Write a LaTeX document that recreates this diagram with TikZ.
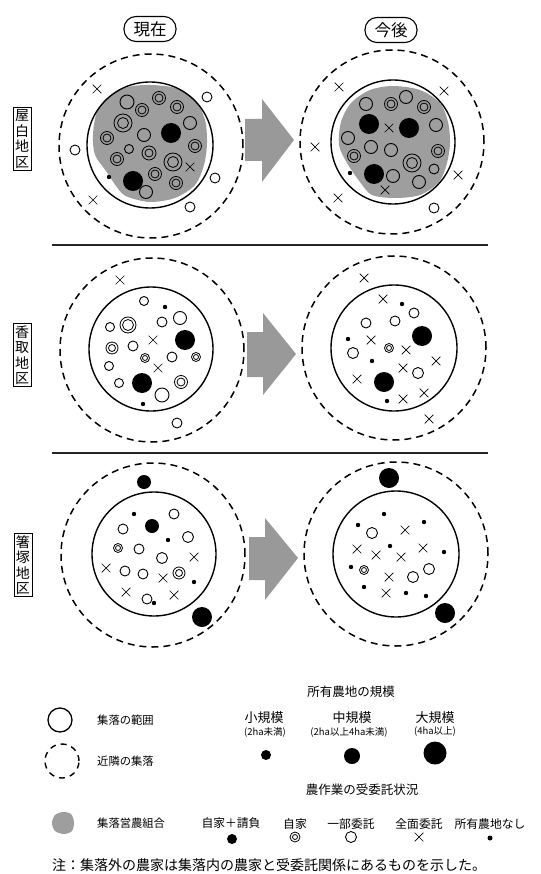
\documentclass[tikz,border=0pt]{standalone}
\usepackage{fontspec}
\newfontfamily\jp{Noto Sans CJK JP}
\usetikzlibrary{shapes.misc}

\tikzset{
  every node/.style={font=\jp},
  village/.style={circle, draw, line width=1.4pt, inner sep=0pt, minimum size=#1},
  nearby/.style={circle, draw, dash pattern=on 7pt off 5pt, line width=1.5pt, inner sep=0pt, minimum size=#1},
  opn/.style={circle, draw, line width=0.9pt, inner sep=0pt, minimum size=2*#1},
  dbl/.style 2 args={circle, draw, line width=0.8pt, inner sep=0pt, minimum size=2*#1,
    path picture={\draw[line width=0.8pt] (path picture bounding box.center) circle (#2pt);}},
  blk/.style={circle, fill, inner sep=0pt, minimum size=2*#1},
  xx/.style={cross out, draw, line width=0.7pt, inner sep=0pt, minimum size=8pt},
  period/.style={draw, rounded corners=12pt, line width=1.1pt, minimum width=52pt,
    minimum height=25pt, inner sep=0pt, font=\jp\fontsize{16.5}{17}\selectfont},
  district/.style={draw, line width=0.9pt, align=center, inner sep=2pt,
    font=\jp\fontsize{14}{15.5}\selectfont},
  blockarrow/.style={fill=black!40},
  divider/.style={line width=1.2pt, black!85},
  farmgroup/.style={fill=black!38},
  legtext/.style={font=\jp\fontsize{11.3}{13}\selectfont, anchor=west, inner sep=0pt},
  leghead/.style={font=\jp\fontsize{12.5}{14}\selectfont, inner sep=0pt},
  legsize/.style={font=\jp\fontsize{13}{14}\selectfont, inner sep=0pt},
  legsub/.style={font=\jp\fontsize{9.5}{10}\selectfont, inner sep=0pt},
  legitem/.style={font=\jp\fontsize{11.8}{13}\selectfont, inner sep=0pt},
}

\begin{document}
\begin{tikzpicture}[x=1pt, y=-1pt]
\useasboundingbox (0,0) rectangle (540,874);
\fill[white] (0,0) rectangle (540,874);

% ---------- headings ----------
\node[period] (now) at (150,29) {現在};
\node[period] (future) at (391,30) {今後};

% ---------- district labels ----------
\node[district] (yashiro) at (22,139) {屋\\白\\地\\区};
\node[district] (katori) at (22,355) {香\\取\\地\\区};
\node[district] (hashizuka) at (23,565) {箸\\塚\\地\\区};

% ---------- dividers ----------
\draw[divider] (52,245) -- (488,245);
\draw[divider] (52,453) -- (488,453);

% ---------- transition arrows ----------
\fill[blockarrow] (245,119) -- (262,119) -- (262,99) -- (294,140) -- (262,182) -- (262,161) -- (245,161) -- cycle;
\fill[blockarrow] (247,332) -- (263,332) -- (263,313) -- (296,354) -- (263,395) -- (263,377) -- (247,377) -- cycle;
\fill[blockarrow] (249,537) -- (265,537) -- (265,518) -- (298,558) -- (265,600) -- (265,580) -- (249,580) -- cycle;

% ================= Yashiro, now =================
\fill[farmgroup] plot[smooth cycle] coordinates {(150,85) (175,88) (195,100) (205,120) (207,143)
  (204,165) (195,185) (175,198) (150,202) (128,197) (119,190) (106,171) (95,155) (93,135)
  (97,112) (110,96) (128,87)};
\node[nearby=184pt] (A-near) at (151,146) {};
\node[village=126pt] (A-vil) at (150,145) {};
\node[opn=7] (A1) at (127,102) {};
\node[dbl={6.5}{4}] (A2) at (159,98) {};
\node[dbl={6.5}{4}] (A3) at (142,110) {};
\node[dbl={6.5}{4}] (A4) at (177,107) {};
\node[dbl={9}{5.5}] (A5) at (123,123) {};
\node[opn=6.5] (A6) at (144,135) {};
\node[blk=10] (A7) at (171,133) {};
\node[opn=6.5] (A8) at (190,123) {};
\node[dbl={6.5}{4}] (A9) at (107,138) {};
\node[opn=4.5] (A10) at (129,149) {};
\node[dbl={7}{4}] (A11) at (149,153) {};
\node[dbl={6.5}{4}] (A12) at (195,146) {};
\node[dbl={6.5}{4}] (A13) at (117,159) {};
\node[dbl={9}{5.5}] (A14) at (173,162) {};
\node[xx] (A15) at (190,167) {};
\node[dbl={6.5}{4}] (A16) at (155,174) {};
\node[blk=10] (A17) at (133,181) {};
\node[dbl={6.5}{4}] (A18) at (176,183) {};
\node[opn=6.5] (A19) at (146,192) {};
\node[blk=2.2] (A20) at (109,177) {};
\node[xx] (A21) at (97,89) {};
\node[opn=5] (A22) at (207,97) {};
\node[opn=5] (A23) at (75,150) {};
\node[xx] (A24) at (93,200) {};
\node[opn=5] (A25) at (215,178) {};
\node[opn=5] (A26) at (190,207) {};

% ================= Yashiro, future =================
\fill[farmgroup] plot[smooth cycle] coordinates {(393,86) (420,90) (440,103) (448,122) (450,143)
  (447,163) (439,182) (420,195) (395,198) (372,195) (360,182) (347,163) (339,145) (341,122)
  (351,103) (370,90)};
\node[nearby=184pt] (B-near) at (392,142) {};
\node[village=124pt] (B-vil) at (393,142) {};
\node[opn=6.5] (B1) at (366,104) {};
\node[dbl={6.5}{4}] (B2) at (391,104) {};
\node[opn=6.5] (B3) at (406,97) {};
\node[dbl={6.5}{4}] (B4) at (424,107) {};
\node[blk=10] (B5) at (369,124) {};
\node[xx] (B6) at (389,128) {};
\node[blk=10] (B7) at (409,128) {};
\node[opn=6.5] (B8) at (436,125) {};
\node[opn=6.5] (B9) at (348,138) {};
\node[opn=6.5] (B10) at (371,147) {};
\node[opn=6.5] (B11) at (391,150) {};
\node[dbl={6.5}{4}] (B12) at (354,156) {};
\node[dbl={9}{5.5}] (B13) at (412,163) {};
\node[dbl={6.5}{4}] (B14) at (438,151) {};
\node[opn=5] (B15) at (434,169) {};
\node[blk=2.2] (B16) at (350,173) {};
\node[blk=10] (B17) at (374,174) {};
\node[opn=6.5] (B18) at (393,176) {};
\node[opn=6.5] (B19) at (419,182) {};
\node[xx] (B20) at (385,190) {};
\node[xx] (B21) at (339,87) {};
\node[xx] (B22) at (444,91) {};
\node[xx] (B23) at (315,147) {};
\node[xx] (B24) at (458,175) {};
\node[xx] (B25) at (338,198) {};
\node[opn=5] (B26) at (434,208) {};

% ================= Katori, now =================
\node[nearby=184pt] (C-near) at (152,350) {};
\node[village=124pt] (C-vil) at (151,349) {};
\node[xx] (C1) at (120,280) {};
\node[opn=4.5] (C2) at (144,301) {};
\node[blk=2.2] (C3) at (165,307) {};
\node[dbl={8}{5.5}] (C4) at (128,325) {};
\node[opn=5] (C5) at (162,322) {};
\node[opn=6.5] (C6) at (180,318) {};
\node[opn=4.5] (C7) at (110,327) {};
\node[blk=10] (C8) at (185,340) {};
\node[xx] (C9) at (153,340) {};
\node[dbl={6}{3.5}] (C10) at (112,348) {};
\node[opn=5] (C11) at (133,346) {};
\node[dbl={4.5}{2.5}] (C12) at (145,358) {};
\node[opn=5] (C13) at (172,357) {};
\node[dbl={4.5}{2.5}] (C14) at (196,357) {};
\node[xx] (C15) at (158,368) {};
\node[opn=4.5] (C16) at (109,366) {};
\node[blk=10] (C17) at (142,383) {};
\node[opn=4.5] (C18) at (119,383) {};
\node[dbl={6.5}{4}] (C19) at (181,382) {};
\node[opn=7] (C20) at (162,395) {};
\node[blk=2.2] (C21) at (143,404) {};
\node[opn=5] (C22) at (177,423) {};

% ================= Katori, future =================
\node[nearby=184pt] (D-near) at (394,348) {};
\node[village=126pt] (D-vil) at (394,348) {};
\node[xx] (D1) at (364,278) {};
\node[xx] (D2) at (383,299) {};
\node[blk=2.2] (D3) at (402,304) {};
\node[opn=5] (D4) at (414,313) {};
\node[opn=5] (D5) at (395,321) {};
\node[opn=5] (D6) at (366,323) {};
\node[blk=10] (D7) at (422,336) {};
\node[blk=2.2] (D8) at (348,339) {};
\node[xx] (D9) at (371,340) {};
\node[dbl={4.5}{2.5}] (D10) at (389,348) {};
\node[xx] (D11) at (406,350) {};
\node[opn=5.5] (D12) at (353,353) {};
\node[blk=2.2] (D13) at (372,361) {};
\node[xx] (D14) at (436,361) {};
\node[xx] (D15) at (403,368) {};
\node[opn=5.5] (D16) at (418,373) {};
\node[xx] (D17) at (357,379) {};
\node[blk=10] (D18) at (384,382) {};
\node[xx] (D19) at (424,393) {};
\node[xx] (D20) at (403,399) {};
\node[blk=2.2] (D21) at (387,401) {};
\node[xx] (D22) at (429,419) {};

% ================= Hashizuka, now =================
\node[nearby=184pt] (E-near) at (153,555) {};
\node[village=124pt] (E-vil) at (154,554) {};
\node[blk=7] (E1) at (144,482) {};
\node[blk=2.2] (E2) at (134,514) {};
\node[opn=5] (E3) at (174,514) {};
\node[blk=7] (E4) at (152,526) {};
\node[opn=5] (E5) at (123,529) {};
\node[blk=2.2] (E6) at (168,540) {};
\node[opn=5.5] (E7) at (188,537) {};
\node[dbl={4.5}{2.5}] (E8) at (118,548) {};
\node[opn=5] (E9) at (139,549) {};
\node[opn=5.5] (E10) at (162,558) {};
\node[xx] (E11) at (194,557) {};
\node[xx] (E12) at (106,568) {};
\node[opn=5] (E13) at (125,571) {};
\node[opn=5] (E14) at (143,574) {};
\node[dbl={6}{3.5}] (E15) at (179,573) {};
\node[xx] (E16) at (163,578) {};
\node[blk=2.2] (E17) at (194,582) {};
\node[xx] (E18) at (126,592) {};
\node[opn=5] (E19) at (147,599) {};
\node[xx] (E20) at (174,595) {};
\node[blk=2.2] (E21) at (154,603) {};
\node[blk=10] (E22) at (202,617) {};

% ================= Hashizuka, future =================
\node[nearby=184pt] (F-near) at (396,554) {};
\node[village=126pt] (F-vil) at (396,554) {};
\node[blk=10] (F1) at (389,478) {};
\node[blk=2.2] (F2) at (384,514) {};
\node[blk=2.2] (F3) at (358,525) {};
\node[opn=5.5] (F4) at (372,533) {};
\node[xx] (F5) at (405,530) {};
\node[blk=2.2] (F6) at (424,522) {};
\node[xx] (F7) at (357,549) {};
\node[blk=2.2] (F8) at (390,546) {};
\node[xx] (F9) at (423,548) {};
\node[blk=2.2] (F10) at (444,552) {};
\node[xx] (F11) at (376,555) {};
\node[xx] (F12) at (401,557) {};
\node[blk=2.2] (F13) at (351,567) {};
\node[dbl={4.5}{2.5}] (F14) at (364,570) {};
\node[opn=5.5] (F15) at (429,569) {};
\node[opn=5.5] (F16) at (413,577) {};
\node[xx] (F17) at (389,577) {};
\node[blk=2.2] (F18) at (364,587) {};
\node[xx] (F19) at (386,593) {};
\node[blk=2.2] (F20) at (406,593) {};
\node[blk=2.2] (F21) at (426,596) {};
\node[blk=10] (F22) at (445,613) {};

% ================= legend =================
\node[circle, draw, line width=1.3pt, minimum size=24pt, inner sep=0pt] (L-vil) at (60,720) {};
\node[legtext] (L-viltext) at (97,720) {集落の範囲};
\node[circle, draw, dash pattern=on 6pt off 5pt, line width=1.4pt, minimum size=34pt, inner sep=0pt] (L-near) at (62,761) {};
\node[legtext] (L-neartext) at (97,761) {近隣の集落};
\fill[farmgroup] plot[smooth cycle] coordinates {(63,812) (71,814) (74,822) (72,831) (64,834) (55,831) (52,823) (55,815)};
\coordinate (L-group) at (63,823);
\node[legtext] (L-grouptext) at (97,823) {集落営農組合};

\node[leghead] (L-sizehead) at (351,692) {所有農地の規模};
\node[legsize] (L-small) at (264,718) {小規模};
\node[legsub] (L-smallsub) at (265,732) {(2ha未満)};
\node[blk=5] (L-smalldot) at (266,755) {};
\node[legsize] (L-mid) at (352,718) {中規模};
\node[legsub] (L-midsub) at (349,732) {(2ha以上4ha未満)};
\node[blk=8] (L-middot) at (352,756) {};
\node[legsize] (L-large) at (435,718) {大規模};
\node[legsub] (L-largesub) at (435,732) {(4ha以上)};
\node[blk=11.5] (L-largedot) at (435,753) {};

\node[leghead] (L-workhead) at (362,790) {農作業の受委託状況};
\node[legitem] (L-own) at (231,823) {自家＋請負};
\node[blk=5] (L-owndot) at (232,839) {};
\node[legitem] (L-self) at (295,824) {自家};
\node[dbl={5}{2.5}] (L-selfmark) at (295,837) {};
\node[legitem] (L-part) at (351,824) {一部委託};
\node[opn=5.5] (L-partmark) at (351,837) {};
\node[legitem] (L-full) at (419,824) {全面委託};
\node[xx] (L-fullmark) at (419,837) {};
\node[legitem] (L-none) at (490,824) {所有農地なし};
\node[blk=2.5] (L-nonemark) at (490,838) {};

\node[font=\jp\fontsize{14}{15}\selectfont, anchor=west, inner sep=0pt] (note) at (52,865)
  {注：集落外の農家は集落内の農家と受委託関係にあるものを示した。};
\end{tikzpicture}
\end{document}
